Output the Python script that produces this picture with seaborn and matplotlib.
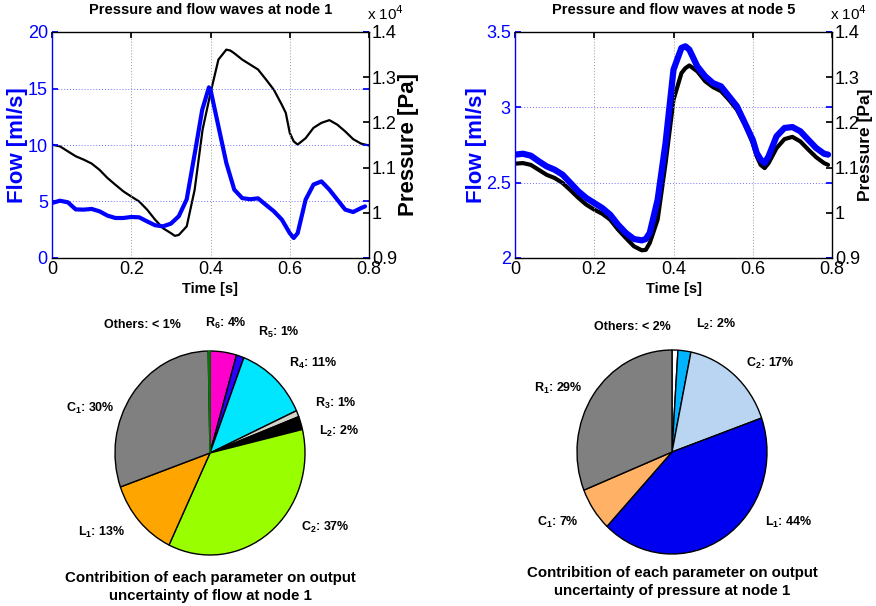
import numpy as np
import pandas as pd
import matplotlib
matplotlib.use("Agg")
import matplotlib.pyplot as plt
from matplotlib.ticker import FuncFormatter
import seaborn as sns

# ---------------- data ----------------
t_flow1 = [0.0, 0.02, 0.04, 0.06, 0.08, 0.10, 0.12, 0.14, 0.16, 0.18, 0.20, 0.22, 0.24, 0.26,
           0.28, 0.30, 0.32, 0.34, 0.362, 0.379, 0.396, 0.40, 0.42, 0.44, 0.46, 0.48, 0.50,
           0.52, 0.54, 0.56, 0.58, 0.60, 0.61, 0.62, 0.64, 0.66, 0.68, 0.70, 0.72, 0.74,
           0.76, 0.78, 0.79]
flow_node1 = [4.87, 5.07, 4.93, 4.30, 4.28, 4.34, 4.13, 3.75, 3.54, 3.54, 3.63, 3.60, 3.24, 2.90,
              2.80, 3.04, 3.70, 5.20, 9.60, 13.1, 15.1, 14.9, 11.65, 8.40, 6.05, 5.30, 5.20,
              5.28, 4.70, 4.13, 3.40, 2.20, 1.77, 2.20, 5.16, 6.50, 6.78, 6.05, 5.16, 4.28,
              4.07, 4.42, 4.57]

t_pres1 = [0.0, 0.02, 0.04, 0.06, 0.08, 0.10, 0.12, 0.14, 0.16, 0.18, 0.20, 0.22, 0.24, 0.26,
           0.28, 0.30, 0.31, 0.32, 0.34, 0.36, 0.38, 0.40, 0.42, 0.44, 0.45, 0.46, 0.48, 0.50,
           0.52, 0.54, 0.56, 0.58, 0.59, 0.60, 0.61, 0.62, 0.64, 0.66, 0.68, 0.70, 0.72,
           0.74, 0.76, 0.78, 0.80]
pressure_node1 = [11507, 11470, 11360, 11250, 11176, 11090, 10950, 10770, 10620, 10475, 10360,
                  10250, 10070, 9850, 9660, 9550, 9490, 9510, 9700, 10510, 11840, 12650,
                  13390, 13610, 13590, 13530, 13390, 13280, 13170, 12950, 12720, 12390, 12210,
                  11770, 11580, 11510, 11650, 11880, 11990, 12050, 11950, 11800, 11630, 11530,
                  11490]

t_node5 = [0.0, 0.02, 0.04, 0.06, 0.08, 0.10, 0.12, 0.14, 0.16, 0.18, 0.20, 0.22, 0.24, 0.26,
           0.28, 0.30, 0.32, 0.33, 0.34, 0.36, 0.38, 0.40, 0.42, 0.43, 0.44, 0.46, 0.48, 0.50,
           0.52, 0.54, 0.56, 0.58, 0.60, 0.61, 0.62, 0.63, 0.64, 0.66, 0.68, 0.70, 0.72,
           0.74, 0.76, 0.78, 0.79]
flow_node5 = [2.686, 2.692, 2.679, 2.642, 2.608, 2.586, 2.553, 2.498, 2.442, 2.398, 2.365, 2.332,
              2.288, 2.221, 2.166, 2.126, 2.117, 2.126, 2.166, 2.387, 2.763, 3.250, 3.394,
              3.405, 3.383, 3.272, 3.206, 3.160, 3.139, 3.073, 3.007, 2.896, 2.785, 2.697,
              2.653, 2.631, 2.675, 2.808, 2.863, 2.869, 2.841, 2.785, 2.730, 2.692, 2.686]
pressure_node5 = [11087, 11100, 11060, 10950, 10840, 10770, 10660, 10500, 10330, 10180, 10070,
                  9980, 9850, 9630, 9440, 9260, 9170, 9180, 9330, 9850, 11100, 12500, 13090,
                  13200, 13260, 13130, 12910, 12780, 12690, 12500, 12280, 11950, 11540, 11250,
                  11060, 10990, 11100, 11430, 11630, 11680, 11580, 11400, 11230, 11100, 11060]

pie1_labels = ["R$_6$: 4%", "R$_5$: 1%", "R$_4$: 11%", "R$_3$: 1%", "L$_2$: 2%",
               "C$_2$: 37%", "L$_1$: 13%", "C$_1$: 30%", "Others: < 1%"]
pie1_values = [4.5, 1.3, 12.4, 1.0, 2.1, 35.8, 12.5, 30.1, 0.3]
pie1_colors = ["#ff00cc", "#2a00ff", "#00e6ff", "#d3d3cc", "#000000",
               "#99ff00", "#ffa500", "#808080", "#007700"]
pie1_label_pos = [(0.17, 1.27), (0.72, 1.18), (1.09, 0.88), (1.32, 0.49), (1.36, 0.21),
                  (1.21, -0.73), (-1.14, -0.78), (-1.26, 0.44), (-0.71, 1.25)]

pie2_labels = ["Others: < 2%", "L$_2$: 2%", "C$_2$: 17%", "L$_1$: 44%", "C$_1$: 7%", "R$_1$: 29%"]
pie2_values = [1.0, 2.2, 16.4, 42.4, 6.9, 31.1]
pie2_colors = ["#ffffff", "#00b4ff", "#b9d5f2", "#0000f0", "#ffb266", "#808080"]
pie2_label_pos = [(-0.42, 1.23), (0.46, 1.25), (1.04, 0.87), (1.23, -0.69), (-1.20, -0.69),
                  (-1.20, 0.62)]

# ---------------- style ----------------
sns.set_theme(style="white")
plt.rcParams["font.family"] = ["Liberation Sans", "DejaVu Sans"]
plt.rcParams["text.color"] = "black"
plt.rcParams["axes.labelcolor"] = "black"
plt.rcParams["xtick.color"] = "black"
plt.rcParams["ytick.color"] = "black"
plt.rcParams["mathtext.fontset"] = "custom"
plt.rcParams["mathtext.rm"] = "Liberation Sans:bold"
plt.rcParams["mathtext.it"] = "Liberation Sans:bold"
plt.rcParams["mathtext.bf"] = "Liberation Sans:bold"
plt.rcParams["mathtext.default"] = "rm"

fig = plt.figure(figsize=(8.76, 6.06), dpi=100)
W, H = 876.0, 606.0


def rect(x0, y0, x1, y1):
    return [x0 / W, 1 - y1 / H, (x1 - x0) / W, (y1 - y0) / H]


def wave_panel(box, t_f, flow, t_p, pres, flim, fticks, title, lw_f, lw_p,
               flabel_x, plabel_x, plabel_size):
    ax = fig.add_axes(box)
    ax2 = ax.twinx()
    sns.lineplot(x=t_p, y=pres, ax=ax2, color="black", lw=lw_p, sort=False)
    sns.lineplot(x=t_f, y=flow, ax=ax, color="#0000ff", lw=lw_f, sort=False)
    ax.set_zorder(ax2.get_zorder() + 1)
    ax.patch.set_visible(False)
    ax.set_xlim(0, 0.8)
    ax.set_ylim(*flim)
    ax.set_yticks(fticks)
    ax.set_xticks([0, 0.2, 0.4, 0.6, 0.8])
    ax.set_xticklabels(["0", "0.2", "0.4", "0.6", "0.8"])
    ax.set_yticklabels([("%g" % v) for v in fticks])
    ax2.set_ylim(9000, 14000)
    ax2.set_yticks([9000, 10000, 11000, 12000, 13000, 14000])
    ax2.yaxis.set_major_formatter(FuncFormatter(lambda v, p: "%g" % (v / 1e4)))
    ax.grid(True, axis="y", color="#7070ff", linestyle=(0, (1, 2)), lw=0.7)
    ax.grid(True, axis="x", color="#999999", linestyle=(0, (1, 2)), lw=0.7)
    ax.tick_params(axis="y", colors="#0000ff", labelsize=13, direction="in", length=4,
                   pad=3, right=True)
    ax.tick_params(axis="x", colors="black", labelsize=13, direction="in", length=4, pad=2,
                   top=True)
    ax2.tick_params(axis="y", colors="black", labelsize=13, direction="in", length=4, pad=2)
    for s in ax.spines.values():
        s.set_color("black")
        s.set_linewidth(1.0)
    ax.spines["left"].set_color("#0000ff")
    for s in ax2.spines.values():
        s.set_visible(False)
    ax.spines["right"].set_color("black")
    ax.set_xlabel("Time [s]", fontsize=10.5, fontweight="bold", labelpad=3)
    ax.set_ylabel("Flow [ml/s]", fontsize=16, fontweight="bold", color="#0000ff")
    ax.yaxis.set_label_coords(flabel_x, 0.5)
    ax2.set_ylabel("Pressure [Pa]", fontsize=plabel_size, fontweight="bold", color="black")
    ax2.yaxis.set_label_coords(plabel_x, 0.5)
    ax.set_title(title, fontsize=10.5, fontweight="bold", pad=13)
    ax2.text(0.995, 1.04, r"x 10$^{4}$", transform=ax.transAxes, fontsize=11,
             ha="left", va="bottom", fontweight="normal",
             math_fontfamily="dejavusans")
    return ax, ax2


wave_panel(rect(52, 32, 369, 258), t_flow1, flow_node1, t_pres1, pressure_node1,
           (0, 20), [0, 5, 10, 15, 20], "Pressure and flow waves at node 1", 3.0, 1.6,
           -0.076, 1.09, 16)
wave_panel(rect(515, 32, 832, 258), t_node5, flow_node5, t_node5, pressure_node5,
           (2, 3.5), [2, 2.5, 3, 3.5], "Pressure and flow waves at node 5", 4.5, 3.0,
           -0.088, 1.082, 12.5)


def pie_panel(cx, cy, values, colors, labels, lpos, caption, cap_y, edgecolors=None):
    rx, ry = 95.0, 102.0
    ax = fig.add_axes(rect(cx - 1.5 * rx, cy - 1.5 * ry, cx + 1.5 * rx, cy + 1.5 * ry))
    wedges, _ = ax.pie(values, colors=colors, startangle=90, counterclock=False,
                       wedgeprops=dict(edgecolor="black", linewidth=1.0))
    if edgecolors:
        for w, e in zip(wedges, edgecolors):
            if e:
                w.set_edgecolor(e)
    ax.set_aspect("auto")
    ax.set_xlim(-1.5, 1.5)
    ax.set_ylim(-1.5, 1.5)
    for lab, (x, y) in zip(labels, lpos):
        ax.text(x, y, lab, ha="center", va="center", fontsize=9, fontweight="bold")
    fig.text(cx / W, 1 - cap_y / H, caption, ha="center", va="center",
             fontsize=10.8, fontweight="bold", linespacing=1.3)


pie_panel(210, 453, pie1_values, pie1_colors, pie1_labels, pie1_label_pos,
          "Contribition of each parameter on output\nuncertainty of flow at node 1", 587,
          edgecolors=[None] * 8 + ["#007700"])
pie_panel(672, 452, pie2_values, pie2_colors, pie2_labels, pie2_label_pos,
          "Contribition of each parameter on output\nuncertainty of pressure at node 1", 582)

fig.savefig("out.png", dpi=100)
